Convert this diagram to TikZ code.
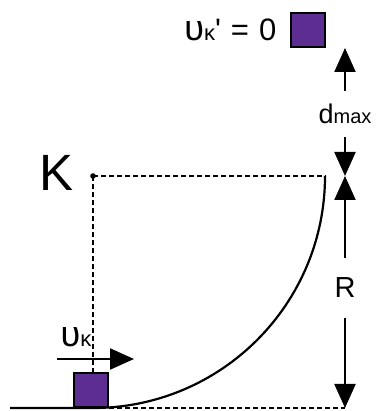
\documentclass[tikz,border=0pt]{standalone}
\usepackage{fontspec}
\setmainfont{Liberation Sans}
\usetikzlibrary{arrows.meta, positioning}
\definecolor{blockpurple}{RGB}{93,45,145}
\newcommand{\velk}{{\fontsize{36}{36}\selectfont υ}{\fontsize{22}{22}\selectfont κ}}

\begin{document}
\begin{tikzpicture}[x=1pt, y=1pt,
    mass/.style   = {draw, line width=2pt, fill=blockpurple, minimum size=34pt, inner sep=0pt},
    guide/.style  = {line width=1.6pt, dash pattern=on 5pt off 3pt},
    track/.style  = {line width=2.2pt},
    dimarr/.style = {-{Triangle[length=24pt, width=21pt]}, line width=2.2pt},
    lbl/.style    = {inner sep=0pt, font=\fontsize{31}{31}\selectfont}
]
\useasboundingbox (0,0) rectangle (375,411);

% ---- Loop centre and guides ----
\coordinate (K) at (93,235);
\coordinate (bot) at (93,3);
\coordinate (floor) at (10,3);
\fill (K) circle[radius=2.8pt];
\node[lbl, font=\fontsize{51}{51}\selectfont] (klbl) at (57,238) {K};

% ---- Masses ----
\node[mass] (m1) at (91,21) {};
\node[mass] (m2) at (307.5,381) {};
\node[lbl, left=13pt of m2] (vtop) {\velk\textquotesingle\hspace{10pt}=\hspace{10pt}0};

% ---- Track ----
\draw[guide] (K) -- (K -| 326,0);
\draw[guide] (K) -- (K |- m1.north);
\draw[track] (floor) -- (bot) arc[start angle=-90, end angle=0, radius=232];

% ---- Dimensions ----
\coordinate (cTop) at (345,363);
\coordinate (cMid) at (345,235);
\coordinate (cBot) at (345,3);
\draw[guide] (m1.south east) -- (cBot);
\node[lbl, inner ysep=13pt, font=\fontsize{27}{27}\selectfont] (dmax) at (345,297) {d{\fontsize{20}{20}\selectfont max}};
\node[lbl, inner ysep=20pt, font=\fontsize{29}{29}\selectfont] (rlbl) at (345,123) {R};
\draw[dimarr] (dmax) -- (cTop);
\draw[dimarr] (dmax) -- (cMid);
\draw[dimarr] (rlbl) -- (cMid);
\draw[dimarr] (rlbl) -- (cBot);

% ---- Velocity ----
\coordinate (vtail) at (57,52);
\coordinate (vhead) at (134,52);
\draw[dimarr] (vtail) -- (vhead);
\node[lbl] (vlbl) at (76,74) {\velk};

\end{tikzpicture}
\end{document}
